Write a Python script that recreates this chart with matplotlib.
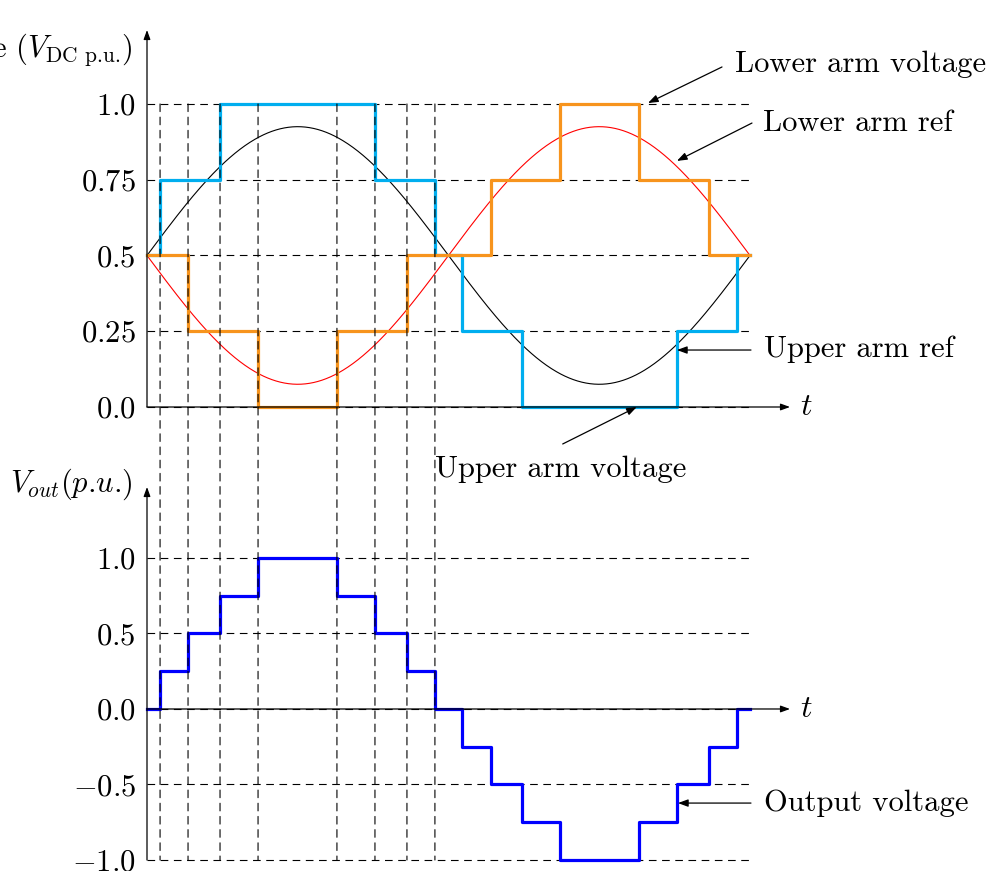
import numpy as np
import matplotlib
matplotlib.use("Agg")
import matplotlib.pyplot as plt
from matplotlib.patches import ConnectionPatch

plt.rcParams["font.family"] = ["cmr10", "DejaVu Serif"]
plt.rcParams["mathtext.fontset"] = "cm"
plt.rcParams["axes.formatter.use_mathtext"] = True
plt.rcParams["lines.scale_dashes"] = False

# ---- data (phase angle in degrees over one fundamental period) ----
period_end = 360.0

# switching instants of the arms (first half-cycle)
switch_first_half = [7.8, 24.5, 43.6, 66.3, 113.4, 136.1, 155.2, 171.9]

upper_arm_t = [0.0, 7.8, 43.6, 136.1, 171.9, 188.1, 223.9, 316.4, 352.2, 360.0]
upper_arm_v = [0.5, 0.75, 1.0, 0.75, 0.5, 0.25, 0.0, 0.25, 0.5, 0.5]

lower_arm_t = [0.0, 24.5, 66.3, 113.4, 155.2, 205.5, 246.6, 293.7, 335.5, 360.0]
lower_arm_v = [0.5, 0.25, 0.0, 0.25, 0.5, 0.75, 1.0, 0.75, 0.5, 0.5]

output_t = [0.0, 7.8, 24.5, 43.6, 66.3, 113.4, 136.1, 155.2, 171.9,
            188.1, 205.5, 223.9, 246.6, 293.7, 316.4, 335.5, 352.2, 360.0]
output_v = [0.0, 0.25, 0.5, 0.75, 1.0, 0.75, 0.5, 0.25, 0.0,
            -0.25, -0.5, -0.75, -1.0, -0.75, -0.5, -0.25, 0.0, 0.0]

# sinusoidal arm references
ref_offset = 0.5
ref_amplitude = 0.425

top_ticks = [0.0, 0.25, 0.5, 0.75, 1.0]
top_tick_labels = ["0.0", "0.25", "0.5", "0.75", "1.0"]
bottom_ticks = [-1.0, -0.5, 0.0, 0.5, 1.0]
bottom_tick_labels = ["-1.0", "-0.5", "0.0", "0.5", "1.0"]

# ---- styling ----
C_UPPER = "#00AEEF"
C_LOWER = "#F7941D"
C_OUT = "#0000FF"
C_REF_UP = "black"
C_REF_LOW = "#FF0000"
FS = 22
DASH = (0, (5.5, 4.0))

W, H = 990, 871
fig = plt.figure(figsize=(W / 100, H / 100), dpi=100)


def px_box(left, right, top, bottom):
    return [left / W, 1 - bottom / H, (right - left) / W, (bottom - top) / H]


x_right = 383.9
ax1 = fig.add_axes(px_box(147, 790, 30, 407))
ax2 = fig.add_axes(px_box(147, 790, 487, 860))
ax1.set_xlim(0, x_right)
ax1.set_ylim(0, 1.244)
ax2.set_xlim(0, x_right)
ax2.set_ylim(-1.0, 1.470)

axis_arrow = dict(arrowstyle="-|>,head_length=0.55,head_width=0.2",
                  lw=0.9, color="black", shrinkA=0, shrinkB=0,
                  mutation_scale=10)

for ax, ticks, labels in ((ax1, top_ticks, top_tick_labels),
                          (ax2, bottom_ticks, bottom_tick_labels)):
    for s in ax.spines.values():
        s.set_visible(False)
    ax.set_xticks([])
    ax.set_yticks(ticks)
    ax.set_yticklabels(["$" + l + "$" for l in labels], fontsize=FS)
    ax.tick_params(axis="y", length=0, pad=8)
    ax.patch.set_alpha(0)
    # horizontal guide lines
    for y in ticks:
        ax.plot([0, period_end], [y, y], color="black", lw=0.8,
                linestyle=DASH, zorder=1, clip_on=False)
    # axes drawn as arrows
    y0, y1 = ax.get_ylim()
    ax.annotate("", xy=(0, y1), xytext=(0, y0), arrowprops=axis_arrow,
                zorder=5)
    ax.annotate("", xy=(x_right, 0), xytext=(0, 0), arrowprops=axis_arrow,
                zorder=5)
    ax.text(393.5, 0, "$t$", fontsize=FS + 1, ha="center", va="center")

# top panel: arm voltages and references
theta = np.linspace(0, period_end, 721)
upper_ref = ref_offset + ref_amplitude * np.sin(np.deg2rad(theta))
lower_ref = ref_offset - ref_amplitude * np.sin(np.deg2rad(theta))
ax1.plot(theta, upper_ref, color=C_REF_UP, lw=0.8, zorder=3)
ax1.plot(theta, lower_ref, color=C_REF_LOW, lw=0.8, zorder=3)
ax1.step(upper_arm_t, upper_arm_v, where="post", color=C_UPPER, lw=2.3,
         zorder=4, clip_on=False)
ax1.step(lower_arm_t, lower_arm_v, where="post", color=C_LOWER, lw=2.3,
         zorder=4, clip_on=False)

# bottom panel: output voltage
ax2.step(output_t, output_v, where="post", color=C_OUT, lw=2.3, zorder=4,
         clip_on=False)

# vertical guides through both panels at the switching instants
for t in switch_first_half:
    con = ConnectionPatch(xyA=(t, 1.0), coordsA=ax1.transData,
                          xyB=(t, -1.0), coordsB=ax2.transData,
                          color="black", lw=0.8, linestyle=DASH, zorder=6)
    fig.add_artist(con)

# axis titles
ax1.text(-8.6, 1.18, r"Voltage ($V_{\text{DC p.u.}}$)", fontsize=FS,
         ha="right", va="center")
ax2.text(-8.4, 1.49, r"$V_{out}(p$.$u$.)", fontsize=FS, ha="right",
         va="center")

# callouts
arrow_kw = dict(arrowstyle="-|>,head_length=0.6,head_width=0.22", lw=0.9,
                color="black", shrinkA=0, shrinkB=0, mutation_scale=10)


def callout(ax, label, tail, tip, text_xy):
    ax.annotate("", xy=tip, xytext=tail, arrowprops=arrow_kw,
                annotation_clip=False, zorder=7)
    ax.text(text_xy[0], text_xy[1], label, fontsize=FS, ha="left",
            va="center", clip_on=False)


callout(ax1, "Lower arm voltage", (343.3, 1.122), (299.1, 1.003), (351.0, 1.13))
callout(ax1, "Lower arm ref", (361.2, 0.937), (316.4, 0.812), (367.8, 0.937))
callout(ax1, "Upper arm ref", (360.6, 0.188), (316.4, 0.188), (368.4, 0.19))
callout(ax1, "Upper arm voltage", (248.2, -0.122), (292.4, 0.0), (171.9, -0.205))
callout(ax2, "Output voltage", (360.6, -0.623), (317.0, -0.623), (368.4, -0.623))

fig.savefig("out.png", dpi=100)
